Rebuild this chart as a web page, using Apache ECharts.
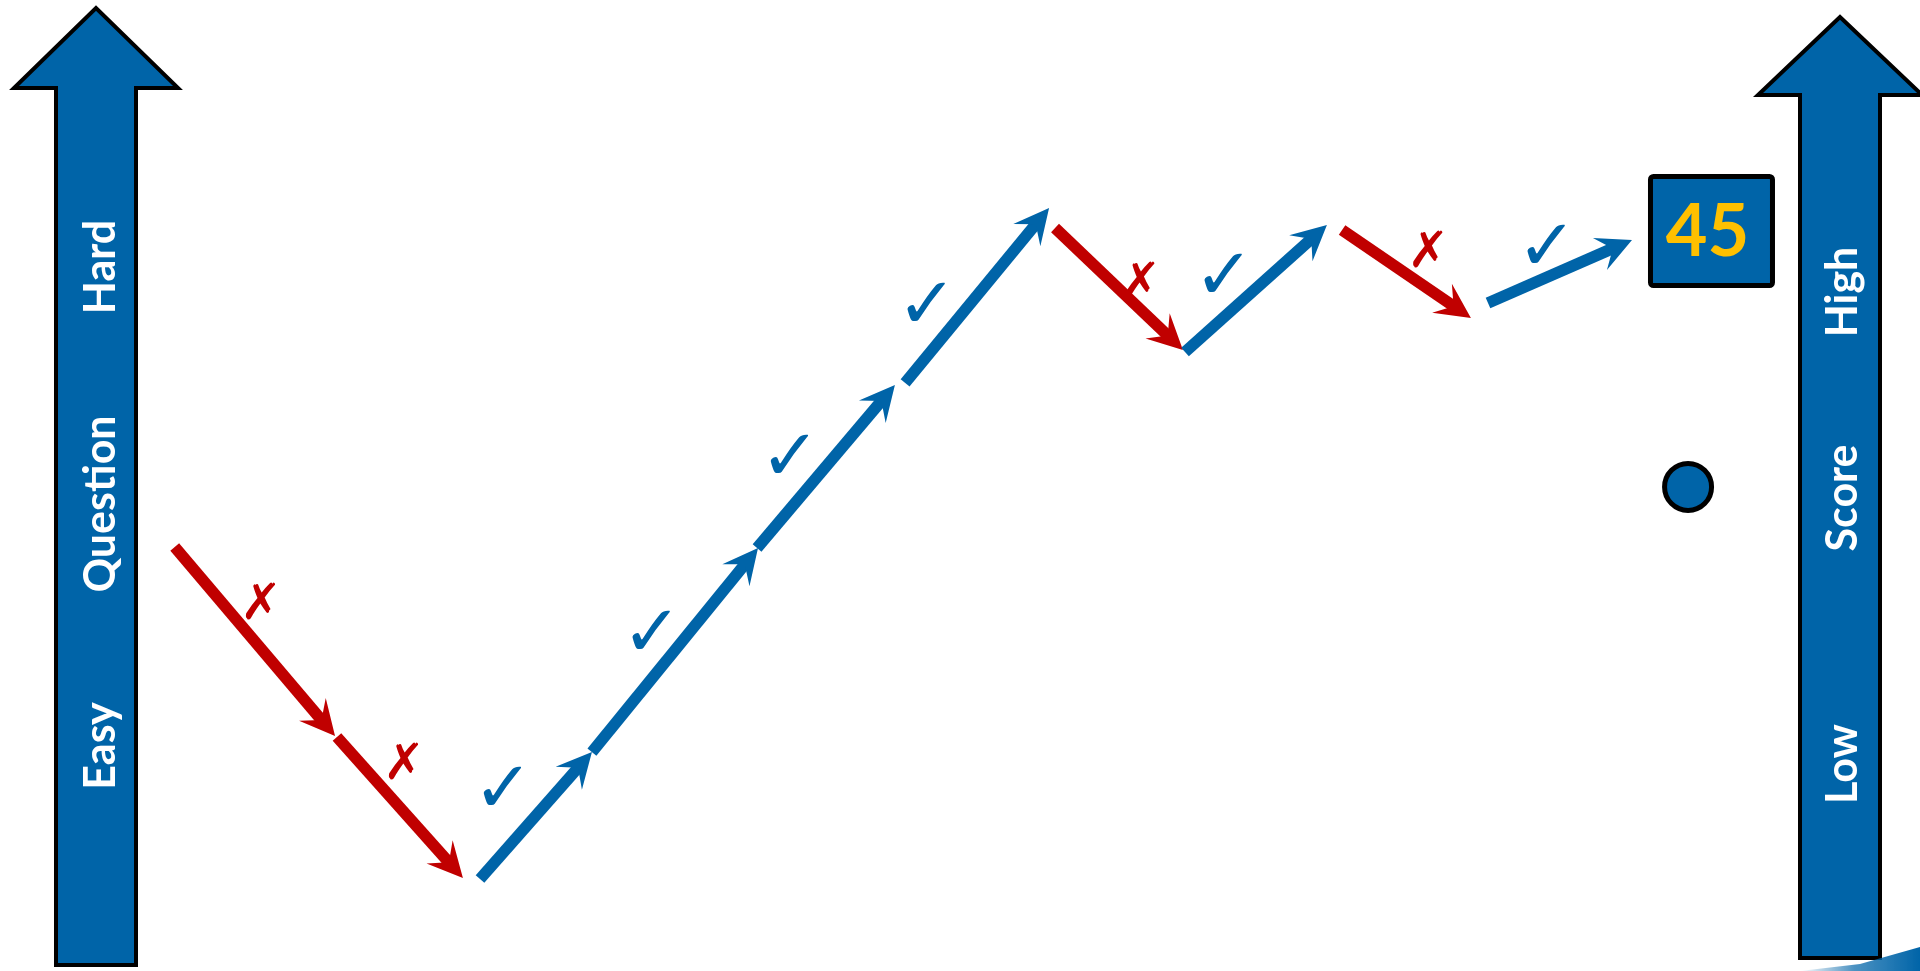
<!DOCTYPE html>
<html>
<head>
<meta charset="utf-8">
<script src="https://cdn.jsdelivr.net/npm/echarts@6/dist/echarts.min.js"></script>
<style>
html,body{margin:0;padding:0;background:#fff;}
#chart{width:1920px;height:971px;}
</style>
</head>
<body>
<div id="chart"></div>
<script>
// Question path: each step is an arrow from one (progress, difficulty) point to the next
const xStart = [9.1, 17.55, 25.0, 30.83, 39.43, 47.14, 54.95, 61.72, 69.9, 77.5];
const yStart = [43.67, 24.1, 9.47, 22.55, 43.56, 60.56, 76.52, 63.75, 76.31, 68.8];
const xEnd   = [17.45, 24.11, 30.83, 39.48, 46.61, 54.64, 61.61, 69.11, 76.61, 85.0];
const yEnd   = [24.2, 9.58, 22.55, 43.56, 60.35, 78.58, 63.95, 76.83, 67.25, 75.28];
const correct = [false, false, true, true, true, true, false, true, false, true];
// Answer marks (✓ / ✗) next to each step
const markX = [13.59, 21.04, 26.2, 33.96, 41.15, 48.28, 59.38, 63.75, 74.38, 80.57];
const markY = [38.31, 21.83, 19.26, 35.32, 53.45, 69.1, 71.37, 72.09, 74.56, 75.08];
// Final score
const scoreValue = 45;
const scorePoint = [89.14, 76.21];
const dotPoint = [87.92, 49.85];
// Side arrow labels
const leftLabels = ['Easy', 'Question', 'Hard'];
const rightLabels = ['Low', 'Score', 'High'];

const BLUE = '#0064A8';
const RED = '#C00000';
const GOLD = '#FFC000';

const chart = echarts.init(document.getElementById('chart'));

const arrowData = xStart.map((x, i) => [x, yStart[i], xEnd[i], yEnd[i], correct[i] ? 1 : 0]);
const markData = markX.map((x, i) => [x, markY[i], correct[i] ? 1 : 0]);

function renderArrow(params, api) {
  const p1 = api.coord([api.value(0), api.value(1)]);
  const p2 = api.coord([api.value(2), api.value(3)]);
  const color = api.value(4) ? BLUE : RED;
  const dx = p2[0] - p1[0], dy = p2[1] - p1[1];
  const len = Math.sqrt(dx * dx + dy * dy);
  const ux = dx / len, uy = dy / len;
  const px = -uy, py = ux;
  const headLen = 35, notch = 21, half = 17.5;
  const nx = p2[0] - ux * notch, ny = p2[1] - uy * notch;
  const bx = p2[0] - ux * headLen, by = p2[1] - uy * headLen;
  return {
    type: 'group',
    children: [
      {
        type: 'line',
        shape: { x1: p1[0], y1: p1[1], x2: nx + ux * 2, y2: ny + uy * 2 },
        style: { stroke: color, lineWidth: 11.5, lineCap: 'butt' }
      },
      {
        type: 'polygon',
        shape: { points: [
          [p2[0], p2[1]],
          [bx + px * half, by + py * half],
          [nx, ny],
          [bx - px * half, by - py * half]
        ] },
        style: { fill: color }
      }
    ]
  };
}

function renderMark(params, api) {
  const p = api.coord([api.value(0), api.value(1)]);
  const ok = api.value(2);
  return {
    type: 'text',
    x: p[0], y: p[1] + (ok ? 9 : 7),
    style: {
      text: ok ? '\u2713' : '\u2717',
      fill: ok ? BLUE : RED,
      fontFamily: 'DejaVu Sans',
      fontSize: ok ? 72 : 50,
      align: 'center',
      verticalAlign: 'middle'
    }
  };
}

function renderScore(params, api) {
  const p = api.coord([api.value(0), api.value(1)]);
  return {
    type: 'group',
    children: [
      {
        type: 'rect',
        shape: { x: p[0] - 61, y: p[1] - 54.5, width: 122, height: 109, r: 3 },
        style: { fill: BLUE, stroke: '#000', lineWidth: 5 }
      },
      {
        type: 'text',
        x: p[0] - 4, y: p[1] + 2,
        style: {
          text: String(api.value(2)),
          fill: GOLD,
          fontFamily: 'Lato',
          fontWeight: 'bold',
          fontSize: 72,
          align: 'center',
          verticalAlign: 'middle'
        }
      }
    ]
  };
}

function renderDot(params, api) {
  const p = api.coord([api.value(0), api.value(1)]);
  return {
    type: 'circle',
    shape: { cx: p[0], cy: p[1], r: 23.5 },
    style: { fill: BLUE, stroke: '#000', lineWidth: 5 }
  };
}

function sideText(txt, x, y) {
  return {
    type: 'text',
    x: x, y: y,
    rotation: Math.PI / 2,
    z: 10,
    style: {
      text: txt,
      fill: '#fff',
      fontFamily: 'Lato',
      fontWeight: 'bold',
      fontSize: 43,
      align: 'center',
      verticalAlign: 'middle'
    }
  };
}

const leftY = [746, 504, 267];
const rightY = [764, 498, 292];

chart.setOption({
  animation: false,
  grid: { left: 0, right: 0, top: 0, bottom: 0 },
  xAxis: { type: 'value', min: 0, max: 100, show: false },
  yAxis: { type: 'value', min: 0, max: 100, show: false },
  graphic: [
    {
      type: 'polygon',
      shape: { points: [[56, 965], [56, 88], [14, 88], [96, 8], [178, 88], [136, 88], [136, 965]] },
      style: { fill: BLUE, stroke: '#000', lineWidth: 4, lineJoin: 'miter' }
    },
    {
      type: 'polygon',
      shape: { points: [[1800, 958], [1800, 95], [1758, 95], [1840, 17], [1922, 95], [1880, 95], [1880, 958]] },
      style: { fill: BLUE, stroke: '#000', lineWidth: 4, lineJoin: 'miter' }
    },
    {
      type: 'polygon',
      shape: { points: [[1800, 971], [1860, 964], [1920, 947], [1920, 971]] },
      style: {
        fill: new echarts.graphic.LinearGradient(0, 0, 1, 0, [
          { offset: 0, color: 'rgba(0,100,168,0)' },
          { offset: 0.45, color: 'rgba(0,100,168,0.7)' },
          { offset: 1, color: BLUE }
        ])
      }
    }
  ].concat(leftLabels.map((t, i) => sideText(t, 101, leftY[i])))
   .concat(rightLabels.map((t, i) => sideText(t, 1843, rightY[i]))),
  series: [
    {
      type: 'custom',
      renderItem: renderArrow,
      data: arrowData,
      encode: { x: [0, 2], y: [1, 3] },
      silent: true
    },
    {
      type: 'custom',
      renderItem: renderMark,
      data: markData,
      encode: { x: 0, y: 1 },
      silent: true
    },
    {
      type: 'custom',
      renderItem: renderScore,
      data: [[scorePoint[0], scorePoint[1], scoreValue]],
      encode: { x: 0, y: 1 },
      silent: true
    },
    {
      type: 'custom',
      renderItem: renderDot,
      data: [dotPoint],
      encode: { x: 0, y: 1 },
      silent: true
    }
  ]
});
</script>
</body>
</html>
